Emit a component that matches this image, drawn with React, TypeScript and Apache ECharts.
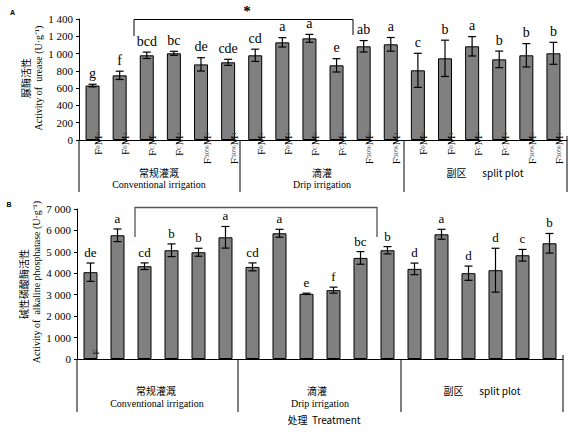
import React, { useEffect, useRef } from "react";
import * as echarts from "echarts";

const categories = [
  "F0M0", "F0M1", "FCM0", "FCM1", "F50%M0", "F50%M1",
  "F0M0", "F0M1", "FCM0", "FCM1", "F50%M0", "F50%M1",
  "F0M0", "F0M1", "FCM0", "FCM1", "F50%M0", "F50%M1",
];
const ureaseMean = [630, 748, 980, 1003, 875, 899, 980, 1130, 1176, 864, 1084, 1107, 806, 945, 1084, 933, 980, 1003];
const ureaseErr = [15, 48, 37, 23, 77, 35, 71, 54, 46, 77, 66, 79, 197, 210, 112, 96, 135, 127];
const ureaseLetters = ["g", "f", "bcd", "bc", "de", "cde", "cd", "a", "a", "e", "ab", "a", "c", "b", "a", "b", "b", "b"];
const phosMean = [4051, 5774, 4330, 5075, 4982, 5680, 4299, 5867, 3042, 3213, 4718, 5075, 4206, 5820, 4004, 4144, 4842, 5400];
const phosErr = [427, 295, 155, 295, 186, 504, 186, 186, 30, 140, 295, 170, 270, 233, 333, 1024, 272, 458];
const phosLetters = ["de", "a", "cd", "b", "b", "a", "cd", "a", "e", "f", "bc", "b", "d", "a", "d", "d", "c", "b"];
const groupCn = ["常规灌溉", "滴灌"];
const groupEn = ["Conventional irrigation", "Drip irrigation"];
const splitLabel = "副区       split plot";

const SERIF = '"Liberation Serif", "Times New Roman", serif';
const CJK = '"Noto Sans CJK SC", sans-serif';

function fmtThousands(v: number) {
  const s = String(v);
  return v >= 1000 ? s.slice(0, s.length - 3) + " " + s.slice(-3) : s;
}

function errSeries(mean: number[], err: number[], letters: string[], axisIdx: number, fontSize: number) {
  return {
    type: "custom",
    xAxisIndex: axisIdx,
    yAxisIndex: axisIdx,
    z: 5,
    data: mean.map((m, i) => [i, m, err[i]]),
    renderItem: (params: any, api: any) => {
      const x = api.value(0);
      const m = api.value(1);
      const e = api.value(2);
      const top = api.coord([x, m + e]);
      const bot = api.coord([x, m - e]);
      const cap = 4;
      const st = { stroke: "#000", lineWidth: 1.2 };
      return {
        type: "group",
        children: [
          { type: "line", shape: { x1: top[0], y1: top[1], x2: bot[0], y2: bot[1] }, style: st },
          { type: "line", shape: { x1: top[0] - cap, y1: top[1], x2: top[0] + cap, y2: top[1] }, style: st },
          { type: "line", shape: { x1: bot[0] - cap, y1: bot[1], x2: bot[0] + cap, y2: bot[1] }, style: st },
          {
            type: "text",
            x: top[0],
            y: top[1] - 4,
            style: {
              text: letters[params.dataIndex],
              align: "center",
              verticalAlign: "bottom",
              fontSize,
              fontFamily: SERIF,
              fill: "#000",
            },
          },
        ],
      };
    },
  };
}

export default function App() {
  const ref = useRef<HTMLDivElement>(null);
  useEffect(() => {
    const chart = echarts.init(ref.current!, null, { renderer: "svg" });
    const line = (x1: number, y1: number, x2: number, y2: number, stroke = "#000", lw = 1) => ({
      type: "line",
      shape: { x1, y1, x2, y2 },
      style: { stroke, lineWidth: lw },
    });
    const txt = (text: string, x: number, y: number, fontSize: number, font = SERIF, extra: any = {}) => ({
      type: "text",
      x,
      y,
      style: { text, fontSize, fontFamily: font, fill: "#000", align: "center", verticalAlign: "middle", ...extra.style },
      ...extra.el,
    });
    const option: any = {
      animation: false,
      grid: [
        { left: 79, top: 19, width: 488, height: 121 },
        { left: 77, top: 209, width: 486, height: 150 },
      ],
      xAxis: [
        {
          type: "category",
          gridIndex: 0,
          data: categories,
          z: 10,
          axisLine: { lineStyle: { color: "#000", width: 1 } },
          axisTick: { show: false },
          axisLabel: {
            rotate: 90,
            margin: -8,
            align: "right",
            verticalAlign: "top",
            interval: 0,
            formatter: (v: string) => {
              const m = v.match(/^F(.+)M(.+)$/);
              if (!m) return v;
              return `{n|F}{s|${m[1]}}{n|M}{s|${m[2]}}`;
            },
            rich: {
              n: { fontSize: 11, fontFamily: SERIF, color: "#000" },
              s: { fontSize: 7, fontFamily: SERIF, color: "#444" },
            },
          },
        },
        {
          type: "category",
          gridIndex: 1,
          data: categories,
          axisLine: { lineStyle: { color: "#000", width: 1 } },
          axisTick: { show: false },
          axisLabel: { show: false },
        },
      ],
      yAxis: [
        {
          type: "value",
          gridIndex: 0,
          min: 0,
          max: 1400,
          interval: 200,
          axisLine: { show: true, lineStyle: { color: "#000" } },
          axisTick: { show: true, length: 3, lineStyle: { color: "#000" } },
          splitLine: { show: false },
          axisLabel: { margin: 6, fontSize: 11, fontFamily: SERIF, color: "#000", formatter: fmtThousands },
        },
        {
          type: "value",
          gridIndex: 1,
          min: 0,
          max: 7000,
          interval: 1000,
          axisLine: { show: true, lineStyle: { color: "#000" } },
          axisTick: { show: true, length: 3, lineStyle: { color: "#000" } },
          splitLine: { show: false },
          axisLabel: { margin: 6, fontSize: 11, fontFamily: SERIF, color: "#000", formatter: fmtThousands },
        },
      ],
      series: [
        {
          type: "bar",
          xAxisIndex: 0,
          yAxisIndex: 0,
          data: ureaseMean,
          barWidth: 14,
          itemStyle: { color: "#808080", borderColor: "#000", borderWidth: 1 },
        },
        errSeries(ureaseMean, ureaseErr, ureaseLetters, 0, 14),
        {
          type: "bar",
          xAxisIndex: 1,
          yAxisIndex: 1,
          data: phosMean,
          barWidth: 14,
          itemStyle: { color: "#808080", borderColor: "#000", borderWidth: 1 },
        },
        errSeries(phosMean, phosErr, phosLetters, 1, 13),
      ],
      graphic: [
        // Panel A decorations
        txt("A", 12.5, 12, 7, "Arial, sans-serif", { style: { fontWeight: "bold" } }),
        txt("脲酶活性", 25, 78, 10, CJK, { el: { rotation: Math.PI / 2 } }),
        txt("Activity of  urease (U·g⁻¹)", 38, 78, 10, SERIF, { el: { rotation: Math.PI / 2 } }),
        txt("*", 247, 11, 15, SERIF, { style: { fontWeight: "bold" } }),
        {
          type: "polyline",
          shape: { points: [[134, 36], [134, 19.5], [353, 19.5], [353, 35]] },
          style: { stroke: "#000", lineWidth: 1, fill: null },
        },
        line(79, 140, 79, 192),
        line(240, 140, 240, 192),
        line(404, 140, 404, 192),
        line(567, 136, 567, 192),
        txt(groupCn[0], 159, 172, 10, CJK),
        txt(groupEn[0], 159, 184, 10),
        txt(groupCn[1], 322, 172, 10, CJK),
        txt(groupEn[1], 322, 184, 10),
        txt(splitLabel, 485, 172, 10, CJK),
        // Panel B decorations
        txt("B", 9, 204, 7, "Arial, sans-serif", { style: { fontWeight: "bold" } }),
        txt("碱性磷酸酶活性", 23, 284, 10, CJK, { el: { rotation: Math.PI / 2 } }),
        txt("Activity of  alkaline phosphatase (U·g⁻¹)", 36, 282, 10, SERIF, { el: { rotation: Math.PI / 2 } }),
        {
          type: "polyline",
          shape: { points: [[135, 237], [135, 207.5], [377, 207.5], [377, 237]] },
          style: { stroke: "#555", lineWidth: 1.3, fill: null },
        },
        txt("F", 96, 352, 9, SERIF, { el: { rotation: Math.PI / 2, z: 100 } }),
        line(77, 359, 77, 412),
        line(238, 359, 238, 412),
        line(401, 359, 401, 412),
        line(563, 355, 563, 412),
        txt(groupCn[0], 156, 390, 10, CJK),
        txt(groupEn[0], 157, 403, 10),
        txt(groupCn[1], 317, 390, 10, CJK),
        txt(groupEn[1], 320, 403, 10),
        txt(splitLabel, 482, 390, 10, CJK),
        txt("处理  Treatment", 324, 419, 10, CJK),
      ],
    };
    chart.setOption(option);
    return () => chart.dispose();
  }, []);
  return (
    <div
      ref={ref}
      style={{ position: "absolute", left: 0, top: 0, width: 581, height: 442, background: "#fff" }}
    />
  );
}
